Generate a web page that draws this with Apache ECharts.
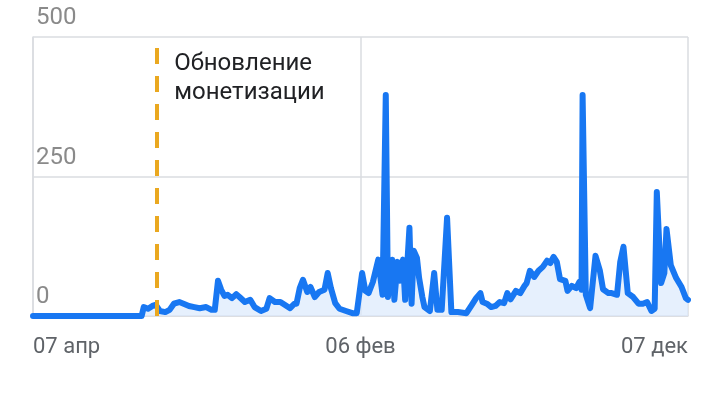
<!DOCTYPE html>
<html>
<head>
<meta charset="utf-8">
<script src="https://cdn.jsdelivr.net/npm/echarts@6/dist/echarts.min.js"></script>
<style>
html,body{margin:0;padding:0;background:#fff;}
#c{width:720px;height:398px;}
</style>
</head>
<body>
<div id="c"></div>
<script>
// Day offsets from 07 апр (start of the period)
const days = [0,101,103,107,111,114,118,123,127,131,136,140,145,150,155,161,166,169,172,175,178,181,185,189,192,197,202,206,212,217,220,225,230,234,239,243,245,248,251,255,258,262,266,271,274,277,281,285,291,297,301,306,309,312,316,321,325,328,330,334,336,339,341,344,346,350,352,354,357,359,362,364,369,373,376,380,385,389,395,403,408,412,416,418,422,426,430,434,438,441,444,449,453,457,459,462,466,470,474,478,481,484,487,490,495,497,501,505,508,510,511,514,518,523,527,530,535,538,543,546,549,553,558,563,567,571,575,578,580,584,587,589,593,598,603,607,609];
const values = [0,0,16,13,18,20,9,7,11,22,25,22,18,16,14,16,11,11,63,47,36,38,32,39,34,25,29,16,9,13,32,25,25,20,14,22,22,50,65,43,52,34,43,47,77,50,23,13,9,5,5,77,45,41,61,101,38,396,34,101,29,97,63,101,29,158,22,117,104,68,34,16,9,77,11,11,176,7,7,5,20,32,41,25,22,16,18,25,23,41,30,45,41,54,59,81,70,81,88,99,95,106,97,66,63,45,54,50,61,47,396,38,14,108,82,48,41,41,38,97,124,41,34,22,22,25,9,13,222,59,77,156,91,68,52,32,29];
const xTickLabels = ['07 апр', '06 фев', '07 дек'];
const totalDays = 609;
const yTicks = [0, 250, 500];
const annotationDay = 115;
const annotationText = 'Обновление\nмонетизации';

const seriesData = days.map((d, i) => [d, values[i]]);

const chart = echarts.init(document.getElementById('c'), null, {renderer: 'canvas'});
const gridColor = '#dadce0';
chart.setOption({
  animation: false,
  grid: {left: 33, right: 32, top: 37, bottom: 82, containLabel: false},
  xAxis: {
    type: 'value',
    min: 0,
    max: totalDays,
    interval: totalDays / 2,
    axisLine: {show: true, lineStyle: {color: gridColor, width: 1.5}},
    axisTick: {show: false},
    splitLine: {show: true, lineStyle: {color: gridColor, width: 1.5}},
    axisLabel: {
      show: true,
      margin: 20,
      fontFamily: 'Roboto',
      fontSize: 22,
      color: '#5f6368',
      alignMinLabel: 'left',
      alignMaxLabel: 'right',
      showMinLabel: true,
      showMaxLabel: true,
      formatter: (v, idx) => xTickLabels[idx] !== undefined ? xTickLabels[idx] : ''
    }
  },
  yAxis: {
    type: 'value',
    min: yTicks[0],
    max: yTicks[2],
    interval: yTicks[1] - yTicks[0],
    axisLine: {show: true, lineStyle: {color: gridColor, width: 1.5}},
    axisTick: {show: false},
    splitLine: {show: true, lineStyle: {color: gridColor, width: 1.5}},
    axisLabel: {
      show: true,
      inside: true,
      margin: 3,
      verticalAlign: 'bottom',
      padding: [0, 0, 7, 0],
      fontFamily: 'Roboto',
      fontSize: 24,
      color: '#8a8a8a'
    }
  },
  series: [{
    type: 'line',
    data: seriesData,
    showSymbol: false,
    smooth: false,
    lineStyle: {color: '#1877f2', width: 6, join: 'round', cap: 'round'},
    areaStyle: {color: '#dbeafc'},
    markLine: {
      silent: true,
      symbol: 'none',
      label: {show: false},
      lineStyle: {color: '#eaa820', width: 4, type: [16, 12]},
      data: [{xAxis: annotationDay}]
    },
    markPoint: {
      silent: true,
      symbol: 'circle',
      symbolSize: 1,
      itemStyle: {color: 'rgba(0,0,0,0)'},
      label: {
        show: true,
        position: [18, 13],
        align: 'left',
        verticalAlign: 'top',
        formatter: annotationText,
        fontFamily: 'Roboto',
        fontSize: 24,
        lineHeight: 29,
        color: '#202124'
      },
      data: [{coord: [annotationDay, yTicks[2]]}]
    }
  }]
});
</script>
</body>
</html>
